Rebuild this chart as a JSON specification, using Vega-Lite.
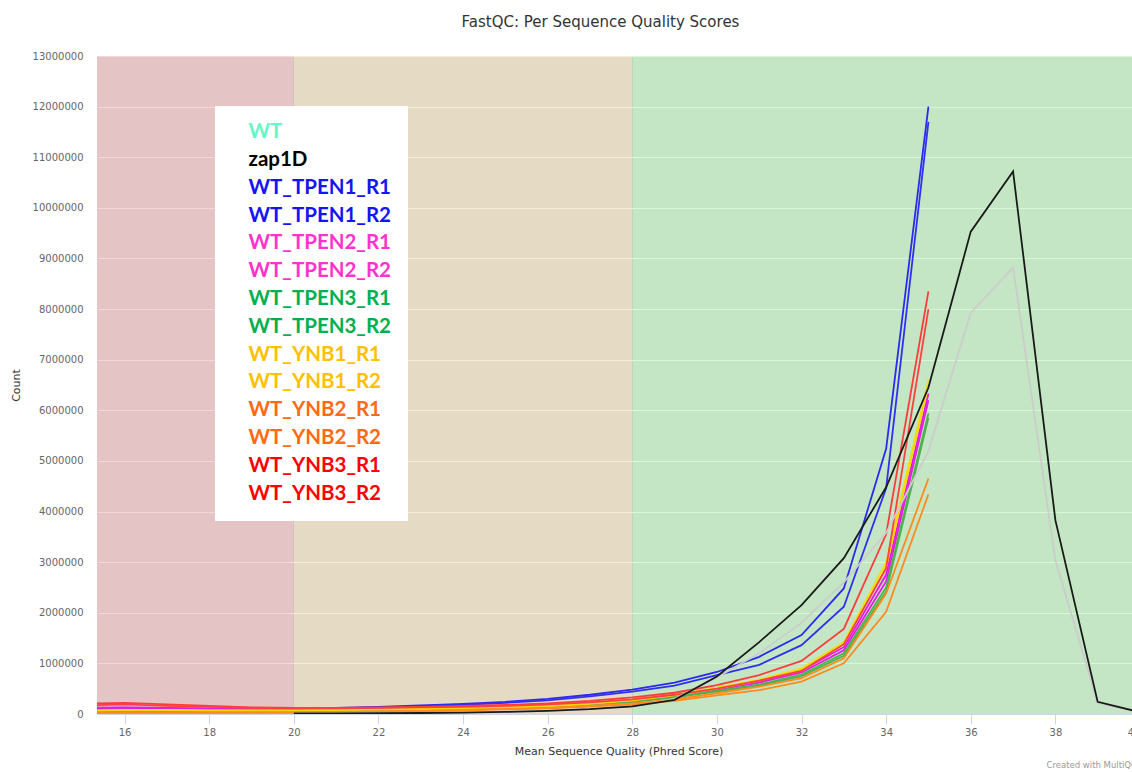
{
  "$schema": "https://vega.github.io/schema/vega-lite/v6.json",
  "width": 1043,
  "height": 658,
  "autosize": {"type": "none"},
  "padding": {"left": 97, "top": 56, "right": 0, "bottom": 58},
  "background": "white",
  "title": {
    "text": "FastQC: Per Sequence Quality Scores",
    "font": "DejaVu Sans",
    "fontSize": 15,
    "fontWeight": "normal",
    "color": "#333333",
    "anchor": "middle",
    "dx": -18,
    "offset": 9,
    "baseline": "alphabetic"
  },
  "datasets": {
    "bands": [
      {"start": 0, "end": 20, "zone": "poor"},
      {"start": 20, "end": 28, "zone": "fair"},
      {"start": 28, "end": 50, "zone": "good"}
    ],
    "quality": [
      {"q": 15, "WT_TPEN1_R1": 80000, "WT_TPEN1_R2": 70000, "WT_TPEN2_R1": 120000, "WT_TPEN2_R2": 100000, "WT_TPEN3_R1": 60000, "WT_TPEN3_R2": 50000, "WT_YNB1_R1": 70000, "WT_YNB1_R2": 65000, "WT_YNB2_R1": 30000, "WT_YNB2_R2": 25000, "WT_YNB3_R1": 200000, "WT_YNB3_R2": 170000},
      {"q": 16, "WT_TPEN1_R1": 90000, "WT_TPEN1_R2": 80000, "WT_TPEN2_R1": 130000, "WT_TPEN2_R2": 110000, "WT_TPEN3_R1": 60000, "WT_TPEN3_R2": 55000, "WT_YNB1_R1": 80000, "WT_YNB1_R2": 75000, "WT_YNB2_R1": 30000, "WT_YNB2_R2": 25000, "WT_YNB3_R1": 220000, "WT_YNB3_R2": 190000},
      {"q": 17, "WT_TPEN1_R1": 90000, "WT_TPEN1_R2": 80000, "WT_TPEN2_R1": 120000, "WT_TPEN2_R2": 100000, "WT_TPEN3_R1": 60000, "WT_TPEN3_R2": 55000, "WT_YNB1_R1": 80000, "WT_YNB1_R2": 75000, "WT_YNB2_R1": 30000, "WT_YNB2_R2": 25000, "WT_YNB3_R1": 190000, "WT_YNB3_R2": 160000},
      {"q": 18, "WT_TPEN1_R1": 90000, "WT_TPEN1_R2": 80000, "WT_TPEN2_R1": 110000, "WT_TPEN2_R2": 90000, "WT_TPEN3_R1": 60000, "WT_TPEN3_R2": 55000, "WT_YNB1_R1": 70000, "WT_YNB1_R2": 65000, "WT_YNB2_R1": 30000, "WT_YNB2_R2": 25000, "WT_YNB3_R1": 160000, "WT_YNB3_R2": 140000},
      {"q": 19, "WT_TPEN1_R1": 90000, "WT_TPEN1_R2": 80000, "WT_TPEN2_R1": 100000, "WT_TPEN2_R2": 90000, "WT_TPEN3_R1": 60000, "WT_TPEN3_R2": 55000, "WT_YNB1_R1": 70000, "WT_YNB1_R2": 65000, "WT_YNB2_R1": 30000, "WT_YNB2_R2": 25000, "WT_YNB3_R1": 130000, "WT_YNB3_R2": 120000},
      {"q": 20, "WT": 10000, "zap1D": 10000, "WT_TPEN1_R1": 100000, "WT_TPEN1_R2": 90000, "WT_TPEN2_R1": 100000, "WT_TPEN2_R2": 90000, "WT_TPEN3_R1": 60000, "WT_TPEN3_R2": 55000, "WT_YNB1_R1": 70000, "WT_YNB1_R2": 65000, "WT_YNB2_R1": 30000, "WT_YNB2_R2": 28000, "WT_YNB3_R1": 120000, "WT_YNB3_R2": 110000},
      {"q": 21, "WT": 12000, "zap1D": 12000, "WT_TPEN1_R1": 120000, "WT_TPEN1_R2": 110000, "WT_TPEN2_R1": 100000, "WT_TPEN2_R2": 90000, "WT_TPEN3_R1": 70000, "WT_TPEN3_R2": 65000, "WT_YNB1_R1": 80000, "WT_YNB1_R2": 75000, "WT_YNB2_R1": 40000, "WT_YNB2_R2": 36000, "WT_YNB3_R1": 120000, "WT_YNB3_R2": 110000},
      {"q": 22, "WT": 15000, "zap1D": 15000, "WT_TPEN1_R1": 140000, "WT_TPEN1_R2": 130000, "WT_TPEN2_R1": 110000, "WT_TPEN2_R2": 100000, "WT_TPEN3_R1": 80000, "WT_TPEN3_R2": 75000, "WT_YNB1_R1": 90000, "WT_YNB1_R2": 85000, "WT_YNB2_R1": 50000, "WT_YNB2_R2": 45000, "WT_YNB3_R1": 130000, "WT_YNB3_R2": 120000},
      {"q": 23, "WT": 20000, "zap1D": 20000, "WT_TPEN1_R1": 170000, "WT_TPEN1_R2": 150000, "WT_TPEN2_R1": 120000, "WT_TPEN2_R2": 110000, "WT_TPEN3_R1": 90000, "WT_TPEN3_R2": 85000, "WT_YNB1_R1": 100000, "WT_YNB1_R2": 95000, "WT_YNB2_R1": 60000, "WT_YNB2_R2": 55000, "WT_YNB3_R1": 140000, "WT_YNB3_R2": 130000},
      {"q": 24, "WT": 30000, "zap1D": 28000, "WT_TPEN1_R1": 200000, "WT_TPEN1_R2": 180000, "WT_TPEN2_R1": 130000, "WT_TPEN2_R2": 120000, "WT_TPEN3_R1": 100000, "WT_TPEN3_R2": 95000, "WT_YNB1_R1": 120000, "WT_YNB1_R2": 110000, "WT_YNB2_R1": 80000, "WT_YNB2_R2": 72000, "WT_YNB3_R1": 160000, "WT_YNB3_R2": 140000},
      {"q": 25, "WT": 45000, "zap1D": 40000, "WT_TPEN1_R1": 240000, "WT_TPEN1_R2": 220000, "WT_TPEN2_R1": 150000, "WT_TPEN2_R2": 140000, "WT_TPEN3_R1": 120000, "WT_TPEN3_R2": 115000, "WT_YNB1_R1": 140000, "WT_YNB1_R2": 130000, "WT_YNB2_R1": 100000, "WT_YNB2_R2": 90000, "WT_YNB3_R1": 180000, "WT_YNB3_R2": 160000},
      {"q": 26, "WT": 65000, "zap1D": 60000, "WT_TPEN1_R1": 300000, "WT_TPEN1_R2": 270000, "WT_TPEN2_R1": 170000, "WT_TPEN2_R2": 160000, "WT_TPEN3_R1": 140000, "WT_TPEN3_R2": 135000, "WT_YNB1_R1": 160000, "WT_YNB1_R2": 150000, "WT_YNB2_R1": 120000, "WT_YNB2_R2": 110000, "WT_YNB3_R1": 210000, "WT_YNB3_R2": 190000},
      {"q": 27, "WT": 100000, "zap1D": 95000, "WT_TPEN1_R1": 380000, "WT_TPEN1_R2": 350000, "WT_TPEN2_R1": 210000, "WT_TPEN2_R2": 200000, "WT_TPEN3_R1": 190000, "WT_TPEN3_R2": 180000, "WT_YNB1_R1": 210000, "WT_YNB1_R2": 200000, "WT_YNB2_R1": 160000, "WT_YNB2_R2": 145000, "WT_YNB3_R1": 260000, "WT_YNB3_R2": 230000},
      {"q": 28, "WT": 140000, "zap1D": 150000, "WT_TPEN1_R1": 480000, "WT_TPEN1_R2": 440000, "WT_TPEN2_R1": 270000, "WT_TPEN2_R2": 260000, "WT_TPEN3_R1": 250000, "WT_TPEN3_R2": 240000, "WT_YNB1_R1": 280000, "WT_YNB1_R2": 270000, "WT_YNB2_R1": 210000, "WT_YNB2_R2": 190000, "WT_YNB3_R1": 330000, "WT_YNB3_R2": 290000},
      {"q": 29, "WT": 300000, "zap1D": 280000, "WT_TPEN1_R1": 620000, "WT_TPEN1_R2": 560000, "WT_TPEN2_R1": 370000, "WT_TPEN2_R2": 350000, "WT_TPEN3_R1": 340000, "WT_TPEN3_R2": 330000, "WT_YNB1_R1": 380000, "WT_YNB1_R2": 370000, "WT_YNB2_R1": 290000, "WT_YNB2_R2": 260000, "WT_YNB3_R1": 420000, "WT_YNB3_R2": 380000},
      {"q": 30, "WT": 720000, "zap1D": 740000, "WT_TPEN1_R1": 830000, "WT_TPEN1_R2": 770000, "WT_TPEN2_R1": 500000, "WT_TPEN2_R2": 480000, "WT_TPEN3_R1": 460000, "WT_TPEN3_R2": 440000, "WT_YNB1_R1": 520000, "WT_YNB1_R2": 500000, "WT_YNB2_R1": 410000, "WT_YNB2_R2": 370000, "WT_YNB3_R1": 570000, "WT_YNB3_R2": 500000},
      {"q": 31, "WT": 1200000, "zap1D": 1420000, "WT_TPEN1_R1": 1130000, "WT_TPEN1_R2": 970000, "WT_TPEN2_R1": 650000, "WT_TPEN2_R2": 620000, "WT_TPEN3_R1": 580000, "WT_TPEN3_R2": 560000, "WT_YNB1_R1": 680000, "WT_YNB1_R2": 660000, "WT_YNB2_R1": 540000, "WT_YNB2_R2": 470000, "WT_YNB3_R1": 770000, "WT_YNB3_R2": 660000},
      {"q": 32, "WT": 1800000, "zap1D": 2150000, "WT_TPEN1_R1": 1560000, "WT_TPEN1_R2": 1360000, "WT_TPEN2_R1": 860000, "WT_TPEN2_R2": 820000, "WT_TPEN3_R1": 780000, "WT_TPEN3_R2": 750000, "WT_YNB1_R1": 900000, "WT_YNB1_R2": 880000, "WT_YNB2_R1": 710000, "WT_YNB2_R2": 640000, "WT_YNB3_R1": 1050000, "WT_YNB3_R2": 850000},
      {"q": 33, "WT": 2600000, "zap1D": 3080000, "WT_TPEN1_R1": 2480000, "WT_TPEN1_R2": 2120000, "WT_TPEN2_R1": 1320000, "WT_TPEN2_R2": 1260000, "WT_TPEN3_R1": 1200000, "WT_TPEN3_R2": 1150000, "WT_YNB1_R1": 1420000, "WT_YNB1_R2": 1380000, "WT_YNB2_R1": 1100000, "WT_YNB2_R2": 1000000, "WT_YNB3_R1": 1680000, "WT_YNB3_R2": 1380000},
      {"q": 34, "WT": 3580000, "zap1D": 4480000, "WT_TPEN1_R1": 5240000, "WT_TPEN1_R2": 4460000, "WT_TPEN2_R1": 2750000, "WT_TPEN2_R2": 2620000, "WT_TPEN3_R1": 2500000, "WT_TPEN3_R2": 2420000, "WT_YNB1_R1": 3000000, "WT_YNB1_R2": 2900000, "WT_YNB2_R1": 2380000, "WT_YNB2_R2": 2020000, "WT_YNB3_R1": 3550000, "WT_YNB3_R2": 2880000},
      {"q": 35, "WT": 5200000, "zap1D": 6450000, "WT_TPEN1_R1": 12000000, "WT_TPEN1_R2": 11700000, "WT_TPEN2_R1": 6330000, "WT_TPEN2_R2": 6200000, "WT_TPEN3_R1": 5940000, "WT_TPEN3_R2": 5850000, "WT_YNB1_R1": 6600000, "WT_YNB1_R2": 6500000, "WT_YNB2_R1": 4650000, "WT_YNB2_R2": 4340000, "WT_YNB3_R1": 8350000, "WT_YNB3_R2": 8000000},
      {"q": 36, "WT": 7930000, "zap1D": 9530000},
      {"q": 37, "WT": 8820000, "zap1D": 10720000},
      {"q": 38, "WT": 3040000, "zap1D": 3830000},
      {"q": 39, "WT": 220000, "zap1D": 240000},
      {"q": 40, "WT": 30000, "zap1D": 35000}
    ],
    "credit": [{"text": "Created with MultiQC", "q": 40, "count": 0}]
  },
  "layer": [
    {
      "data": {"name": "bands"},
      "mark": {"type": "rect", "clip": true, "opacity": 0.85},
      "encoding": {
        "x": {"field": "start", "type": "quantitative", "scale": {"domain": [15.35, 40], "nice": false, "zero": false}, "title": "Mean Sequence Quality (Phred Score)"},
        "x2": {"field": "end"},
        "fill": {"field": "zone", "type": "nominal", "scale": {"domain": ["poor", "fair", "good"], "range": ["#f4cfcf", "#f6eacf", "#cff7cf"]}, "legend": null}
      }
    },
    {
      "data": {"name": "quality"},
      "transform": [
        {"fold": ["WT", "zap1D", "WT_TPEN1_R1", "WT_TPEN1_R2", "WT_TPEN2_R1", "WT_TPEN2_R2", "WT_TPEN3_R1", "WT_TPEN3_R2", "WT_YNB1_R1", "WT_YNB1_R2", "WT_YNB2_R1", "WT_YNB2_R2", "WT_YNB3_R1", "WT_YNB3_R2"], "as": ["sample", "count"]},
        {"filter": "isValid(datum.count)"}
      ],
      "mark": {"type": "line", "clip": true, "strokeWidth": 1.8},
      "encoding": {
        "x": {
          "field": "q", "type": "quantitative",
          "scale": {"domain": [15.35, 40], "nice": false, "zero": false},
          "title": "Mean Sequence Quality (Phred Score)",
          "axis": {
            "values": [16, 18, 20, 22, 24, 26, 28, 30, 32, 34, 36, 38, 40],
            "grid": false,
            "domainColor": "#ccd6eb",
            "tickColor": "#ccd6eb",
            "tickSize": 10,
            "labelPadding": 3,
            "titlePadding": 8,
            "labelFlush": true
          }
        },
        "y": {
          "field": "count", "type": "quantitative",
          "scale": {"domain": [0, 13000000], "nice": false},
          "title": "Count",
          "axis": {
            "values": [0, 1000000, 2000000, 3000000, 4000000, 5000000, 6000000, 7000000, 8000000, 9000000, 10000000, 11000000, 12000000, 13000000],
            "format": "d",
            "grid": true,
            "gridColor": "#ffffff",
            "gridWidth": 1,
            "domain": false,
            "ticks": false,
            "labelPadding": 14,
            "titlePadding": 11
          }
        },
        "color": {
          "field": "sample", "type": "nominal",
          "scale": {
            "domain": ["WT", "zap1D", "WT_TPEN1_R1", "WT_TPEN1_R2", "WT_TPEN2_R1", "WT_TPEN2_R2", "WT_TPEN3_R1", "WT_TPEN3_R2", "WT_YNB1_R1", "WT_YNB1_R2", "WT_YNB2_R1", "WT_YNB2_R2", "WT_YNB3_R1", "WT_YNB3_R2"],
            "range": ["#cccccc", "#1a1a1a", "#2a2af0", "#3030f0", "#e619e6", "#e020e0", "#4cb34c", "#52b052", "#f0e010", "#f5d800", "#ff8c1a", "#ff8a20", "#ff3b3b", "#ff4040"]
          },
          "legend": {
            "orient": "none",
            "legendX": 118,
            "legendY": 50,
            "title": null,
            "fillColor": "#ffffff",
            "padding": 16,
            "symbolSize": 0,
            "symbolStrokeWidth": 0,
            "symbolOpacity": 0,
            "labelOffset": -3,
            "labelFont": "Lato",
            "labelFontSize": 20.5,
            "labelFontWeight": "bold",
            "labelLimit": 400,
            "rowPadding": 6.8,
            "labelColor": {"expr": "datum.value == 'WT' ? '#66f7c8' : datum.value == 'zap1D' ? '#000000' : indexof(datum.value, 'TPEN1') >= 0 ? '#1414f5' : indexof(datum.value, 'TPEN2') >= 0 ? '#ff33cc' : indexof(datum.value, 'TPEN3') >= 0 ? '#00b050' : indexof(datum.value, 'YNB1') >= 0 ? '#ffc000' : indexof(datum.value, 'YNB2') >= 0 ? '#ff6a13' : '#ff0000'"}
          }
        }
      }
    },
    {
      "data": {"name": "credit"},
      "mark": {"type": "text", "align": "right", "baseline": "bottom", "dx": -3, "dy": 56, "font": "DejaVu Sans", "fontSize": 8.5, "color": "#999999"},
      "encoding": {
        "x": {"field": "q", "type": "quantitative"},
        "y": {"field": "count", "type": "quantitative"},
        "text": {"field": "text"}
      }
    }
  ],
  "config": {
    "view": {"stroke": null, "fill": "#878787"},
    "axis": {
      "labelFont": "DejaVu Sans",
      "labelFontSize": 10,
      "labelColor": "#666666",
      "titleFont": "DejaVu Sans",
      "titleFontSize": 11,
      "titleFontWeight": "normal",
      "titleColor": "#333333"
    }
  }
}
